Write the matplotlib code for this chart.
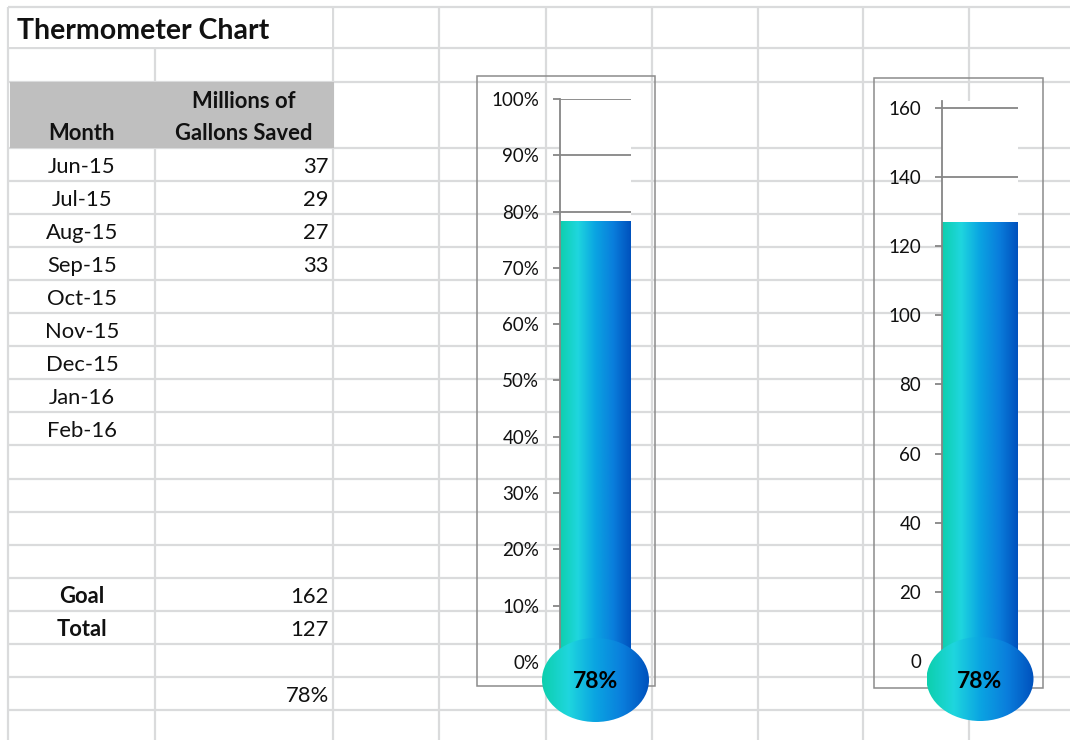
import numpy as np
import matplotlib
matplotlib.use('Agg')
import matplotlib.pyplot as plt
from matplotlib.patches import Rectangle, Ellipse
from matplotlib.colors import LinearSegmentedColormap
from matplotlib.ticker import PercentFormatter, MultipleLocator

# ---------------- data ----------------
title = 'Thermometer Chart'
header_month = 'Month'
header_value = 'Millions of\nGallons Saved'
months = ['Jun-15', 'Jul-15', 'Aug-15', 'Sep-15', 'Oct-15',
          'Nov-15', 'Dec-15', 'Jan-16', 'Feb-16']
gallons = [37, 29, 27, 33, None, None, None, None, None]
goal = 162
total = 127
pct = total / goal
pct_step = 0.10
value_step = 20

# ---------------- figure ----------------
W, H = 1070, 740
fig = plt.figure(figsize=(W / 100, H / 100), dpi=100)
plt.rcParams['font.family'] = ['Lato', 'DejaVu Sans']

GRID = '#dadbdc'
AXC = '#868686'
BOX = '#8c8c8c'
cmap = LinearSegmentedColormap.from_list(
    'thermo', [(0.0, '#0dcfad'), (0.25, '#1fd6de'), (0.5, '#0aa4e2'),
               (0.75, '#0a7edc'), (1.0, '#0051bd')])
grad = np.linspace(0, 1, 256).reshape(1, -1)

bg = fig.add_axes([0, 0, 1, 1])
bg.set_xlim(0, W)
bg.set_ylim(H, 0)
bg.axis('off')

# spreadsheet grid
row0, rh = 148.0, 33.05
hlines = [7, 48, 82] + [row0 + k * rh for k in range(19)]
for y in hlines:
    bg.plot([8, W], [y, y], color=GRID, lw=1.6, solid_capstyle='butt', zorder=1)
for x in [8, 333, 439, 546, 652, 758, 863, 969]:
    bg.plot([x, x], [7, H], color=GRID, lw=1.6, solid_capstyle='butt', zorder=1)
bg.plot([155, 155], [48, H], color=GRID, lw=1.6, solid_capstyle='butt', zorder=1)
# title cell covers column divider
bg.add_patch(Rectangle((9, 8.5), 323, 38, fc='white', ec='none', zorder=1.5))
# header fill
bg.add_patch(Rectangle((10, 82), 324, 66, fc='#bfbfbf', ec='none', zorder=2))

TS = 15.8
TXT = '#111111'
bg.text(17, 31, title, fontsize=20.5, fontweight='bold', ha='left', va='center',
        color=TXT, zorder=3)
bg.text(82, 134, header_month, fontsize=TS, fontweight='bold', ha='center', va='center',
        color=TXT, zorder=3)
hv = header_value.split('\n')
bg.text(244, 101, hv[0], fontsize=TS, fontweight='bold', ha='center', va='center',
        color=TXT, zorder=3)
bg.text(244, 134, hv[1], fontsize=TS, fontweight='bold', ha='center', va='center',
        color=TXT, zorder=3)


def row_y(k):
    return row0 + k * rh + rh / 2 + 2.5


for k, (m, g) in enumerate(zip(months, gallons)):
    bg.text(82, row_y(k), m, fontsize=TS, ha='center', va='center', color=TXT, zorder=3)
    if g is not None:
        bg.text(329, row_y(k), f'{g}', fontsize=TS, ha='right', va='center', color=TXT, zorder=3)

bg.text(82, row_y(13), 'Goal', fontsize=TS, fontweight='bold', ha='center', va='center',
        color=TXT, zorder=3)
bg.text(329, row_y(13), f'{goal}', fontsize=TS, ha='right', va='center', color=TXT, zorder=3)
bg.text(82, row_y(14), 'Total', fontsize=TS, fontweight='bold', ha='center', va='center',
        color=TXT, zorder=3)
bg.text(329, row_y(14), f'{total}', fontsize=TS, ha='right', va='center', color=TXT, zorder=3)
bg.text(329, row_y(16), f'{pct:.0%}', fontsize=TS, ha='right', va='center', color=TXT, zorder=3)

# chart boxes
bg.add_patch(Rectangle((477, 76), 178, 610, fc='none', ec=BOX, lw=1.1, zorder=4))
bg.add_patch(Rectangle((874, 78), 169, 610, fc='none', ec=BOX, lw=1.1, zorder=4))


def px_axes(x0, x1, ytop, ybot):
    return fig.add_axes([x0 / W, 1 - ybot / H, (x1 - x0) / W, (ybot - ytop) / H])


def thermo(ax, value, ymax, step, fmt):
    ax.set_facecolor('white')
    bars = ax.bar([0], [value], width=1.0, color='none', edgecolor='none', zorder=2)
    patch = bars.patches[0]
    im = ax.imshow(grad, cmap=cmap, extent=[-0.5, 0.5, 0, value], aspect='auto',
                   zorder=2, interpolation='bilinear')
    im.set_clip_path(patch)
    ax.set_xlim(-0.5, 0.5)
    ax.set_ylim(0, ymax)
    ax.yaxis.set_major_locator(MultipleLocator(step))
    if fmt is not None:
        ax.yaxis.set_major_formatter(fmt)
    ax.set_xticks([])
    for s in ['top', 'right', 'bottom']:
        ax.spines[s].set_visible(False)
    ax.spines['left'].set_color(AXC)
    ax.spines['left'].set_linewidth(1.3)
    ax.set_axisbelow(True)
    ax.grid(axis='y', color=AXC, lw=1.3)
    ax.tick_params(axis='y', direction='out', length=5, width=1.3, color=AXC,
                   labelsize=13.5, labelcolor=TXT, pad=10)


ax1 = px_axes(560, 631, 99, 662)
thermo(ax1, pct, 1.0, pct_step, PercentFormatter(1.0, decimals=0))

ax2 = px_axes(942, 1018, 101, 661)
thermo(ax2, total, goal, value_step, None)

# bulbs on an overlay
ov = fig.add_axes([0, 0, 1, 1])
ov.set_facecolor('none')
ov.axis('off')
for ax in (ax1, ax2):
    px, py = ax.transData.transform((0, 0))
    cx, cy = px, H - py + 18
    bw, bh = 107, 84
    el = Ellipse((cx, cy), bw, bh, fc='none', ec='none')
    ov.add_patch(el)
    im = ov.imshow(grad, cmap=cmap, extent=[cx - bw / 2, cx + bw / 2, cy + bh / 2, cy - bh / 2],
                   aspect='auto', interpolation='bilinear', zorder=2)
    im.set_clip_path(el)
    ov.text(cx, cy + 2, f'{pct:.0%}', fontsize=16.5, fontweight='bold', ha='center',
            va='center', color='black', zorder=3)
ov.set_xlim(0, W)
ov.set_ylim(H, 0)

fig.savefig('out.png', dpi=100)
